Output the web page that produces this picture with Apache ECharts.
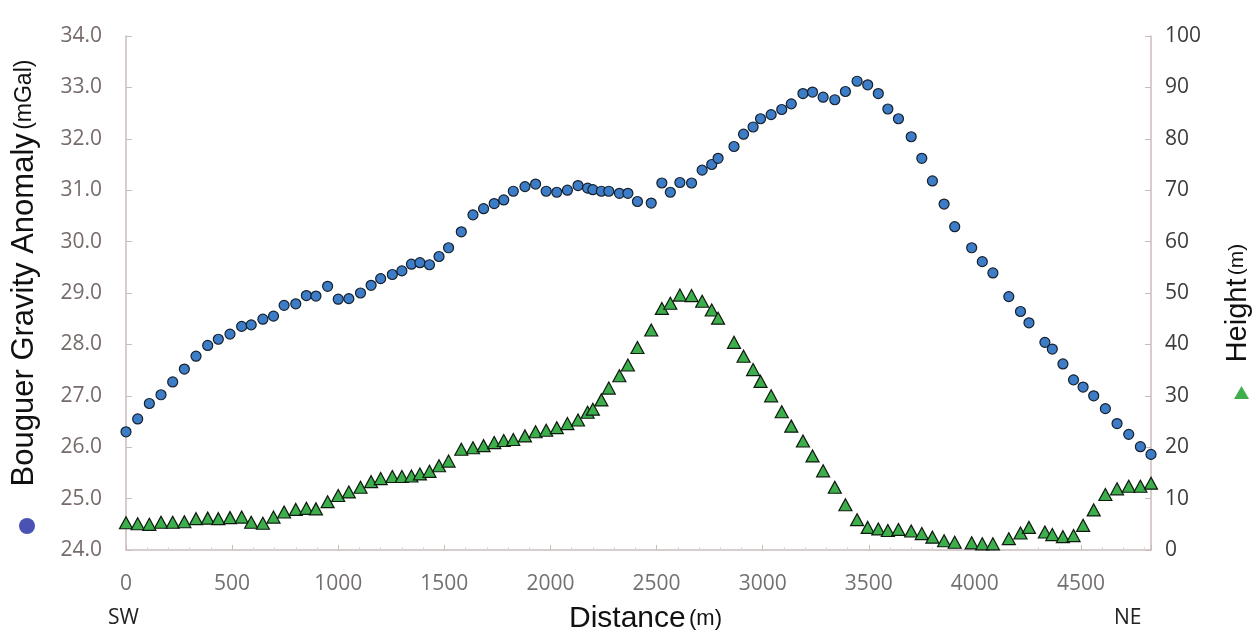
<!DOCTYPE html>
<html>
<head>
<meta charset="utf-8">
<title>Bouguer gravity anomaly and height profile</title>
<script src="https://cdn.jsdelivr.net/npm/echarts@6/dist/echarts.min.js"></script>
<style>
  html, body { margin: 0; padding: 0; background: #fff; }
  #chart { width: 1260px; height: 639px; }
</style>
</head>
<body>
<div id="chart"></div>
<script>
// distance along profile SW -> NE (m)
const distance = [
  0, 55, 110, 165, 220, 275, 330, 385, 435, 490,
  545, 590, 645, 695, 745, 800, 850, 895, 950, 1000,
  1050, 1105, 1155, 1200, 1255, 1300, 1345, 1385, 1430, 1475,
  1520, 1580, 1635, 1685, 1735, 1780, 1825, 1880, 1930, 1980,
  2030, 2080, 2130, 2175, 2200, 2240, 2275, 2325, 2365, 2410,
  2475, 2525, 2565, 2610, 2665, 2715, 2760, 2790, 2865, 2910,
  2955, 2990, 3040, 3090, 3135, 3190, 3235, 3285, 3340, 3390,
  3445, 3495, 3545, 3590, 3640, 3700, 3750, 3800, 3855, 3905,
  3985, 4035, 4085, 4160, 4215, 4255, 4330, 4365, 4415, 4465,
  4510, 4560, 4615, 4670, 4725, 4780, 4830
];

// Bouguer gravity anomaly (mGal)
const gravity = [
  26.30, 26.55, 26.85, 27.02, 27.27, 27.52, 27.77, 27.98, 28.10, 28.20,
  28.35, 28.38, 28.49, 28.55, 28.76, 28.79, 28.95, 28.94, 29.13, 28.88,
  28.89, 29.00, 29.15, 29.28, 29.36, 29.43, 29.56, 29.59, 29.55, 29.71,
  29.88, 30.19, 30.52, 30.64, 30.74, 30.81, 30.98, 31.07, 31.12, 30.98,
  30.96, 31.00, 31.09, 31.04, 31.01, 30.98, 30.98, 30.94, 30.94, 30.78,
  30.75, 31.14, 30.96, 31.15, 31.14, 31.39, 31.50, 31.62, 31.85, 32.09,
  32.23, 32.39, 32.47, 32.57, 32.68, 32.88, 32.91, 32.81, 32.76, 32.92,
  33.12, 33.05, 32.88, 32.58, 32.39, 32.04, 31.62, 31.18, 30.73, 30.29,
  29.88, 29.61, 29.39, 28.93, 28.64, 28.42, 28.04, 27.91, 27.62, 27.31,
  27.17, 27.00, 26.75, 26.46, 26.25, 26.01, 25.86
];

// ground height (m)
const height = [
  5.3, 5.1, 5.0, 5.4, 5.4, 5.5, 6.1, 6.2, 6.1, 6.3,
  6.4, 5.4, 5.2, 6.4, 7.4, 7.9, 8.1, 8.0, 9.4, 10.6,
  11.3, 12.2, 13.3, 13.9, 14.3, 14.3, 14.4, 14.8, 15.3, 16.4,
  17.3, 19.6, 19.9, 20.3, 20.9, 21.3, 21.5, 22.2, 23.0, 23.3,
  23.8, 24.6, 25.3, 26.8, 27.4, 29.2, 31.5, 33.9, 36.0, 39.4,
  42.8, 47.0, 48.0, 49.6, 49.5, 48.4, 46.7, 45.1, 40.4, 37.7,
  35.1, 32.8, 30.0, 26.9, 24.1, 21.2, 18.3, 15.4, 12.2, 8.8,
  5.9, 4.4, 4.1, 3.8, 4.0, 3.7, 3.2, 2.5, 1.8, 1.5,
  1.4, 1.2, 1.2, 2.2, 3.3, 4.4, 3.5, 3.0, 2.6, 2.8,
  4.8, 7.8, 10.8, 11.9, 12.4, 12.4, 13.0
];

const axisColor = '#cbbdbd';
const labelFont = 'Open Sans';

const chart = echarts.init(document.getElementById('chart'));

const option = {
  backgroundColor: '#ffffff',
  animation: false,
  grid: { left: 126, right: 109, top: 36, bottom: 86 },
  legend: [
    {
      data: ['Bouguer'],
      left: 14, top: 513,
      icon: 'circle',
      itemWidth: 16, itemHeight: 16,
      itemStyle: { color: '#4a52b4', borderWidth: 0 },
      formatter: () => '',
      selectedMode: false
    },
    {
      data: ['Height'],
      left: 1229, top: 381,
      icon: 'triangle',
      itemWidth: 15, itemHeight: 13,
      itemStyle: { color: '#3fae4c', borderWidth: 0 },
      formatter: () => '',
      selectedMode: false
    }
  ],
  xAxis: {
    type: 'value',
    min: 0, max: 4830, interval: 500,
    name: '{a|Distance} {b|(m)}',
    nameLocation: 'middle',
    nameGap: 54,
    nameTextStyle: {
      padding: [0, 0, 0, 14],
      rich: {
        a: { fontFamily: 'Liberation Sans', fontSize: 30, color: '#111' },
        b: { fontFamily: 'Liberation Sans', fontSize: 22, color: '#111' }
      }
    },
    axisLine: { show: true, lineStyle: { color: axisColor, width: 1.5 } },
    axisTick: { show: true, inside: true, length: 5, lineStyle: { color: axisColor } },
    minorTick: { show: true, splitNumber: 5, length: 3, lineStyle: { color: '#e2d8d8' } },
    axisLabel: {
      showMaxLabel: false,
      margin: 24,
      formatter: v => String(v),
      fontFamily: labelFont, fontSize: 21, color: '#747070'
    },
    splitLine: { show: false }
  },
  yAxis: [
    {
      type: 'value',
      min: 24, max: 34, interval: 1,
      name: '{a|Bouguer Gravity Anomaly} {b|(mGal)}',
      nameLocation: 'middle',
      nameRotate: 90,
      nameGap: 86,
      nameTextStyle: {
        padding: [0, 0, 0, 40],
        rich: {
          a: { fontFamily: 'Liberation Sans', fontSize: 31, color: '#111' },
          b: { fontFamily: 'Liberation Sans', fontSize: 23, color: '#111' }
        }
      },
      axisLine: { show: true, lineStyle: { color: axisColor, width: 1.5 } },
      axisTick: { show: true, inside: true, length: 6, lineStyle: { color: axisColor } },
      axisLabel: {
        margin: 24,
        formatter: v => v.toFixed(1),
        fontFamily: labelFont, fontSize: 21, color: '#766a6a'
      },
      splitLine: { show: false }
    },
    {
      type: 'value',
      position: 'right',
      min: 0, max: 100, interval: 10,
      name: '{a|Height} {b|(m)}',
      nameLocation: 'middle',
      nameRotate: 90,
      nameGap: 72,
      nameTextStyle: {
        padding: [0, 20, 0, 0],
        rich: {
          a: { fontFamily: 'Liberation Sans', fontSize: 29, color: '#111' },
          b: { fontFamily: 'Liberation Sans', fontSize: 21, color: '#111' }
        }
      },
      axisLine: { show: true, lineStyle: { color: axisColor, width: 1.5 } },
      axisTick: { show: true, inside: true, length: 6, lineStyle: { color: axisColor } },
      axisLabel: {
        margin: 14,
        fontFamily: labelFont, fontSize: 21, color: '#3c3c3c'
      },
      splitLine: { show: false }
    }
  ],
  series: [
    {
      name: 'Bouguer',
      type: 'scatter',
      yAxisIndex: 0,
      symbol: 'circle',
      symbolSize: 10,
      itemStyle: { color: '#3d7cc6', borderColor: '#16202c', borderWidth: 1.2, opacity: 1 },
      data: distance.map((d, i) => [d, gravity[i]])
    },
    {
      name: 'Height',
      type: 'scatter',
      yAxisIndex: 1,
      symbol: 'triangle',
      symbolSize: [13, 12],
      itemStyle: { color: '#3cae4b', borderColor: '#0f1a0f', borderWidth: 1.2, opacity: 1 },
      data: distance.map((d, i) => [d, height[i]])
    }
  ],
  graphic: [
    {
      type: 'text', left: 108, top: 608,
      style: { text: 'SW', font: '21px "Open Sans"', fill: '#222' }
    },
    {
      type: 'text', left: 1114, top: 608,
      style: { text: 'NE', font: '21px "Open Sans"', fill: '#222' }
    }
  ]
};

chart.setOption(option);
</script>
</body>
</html>
